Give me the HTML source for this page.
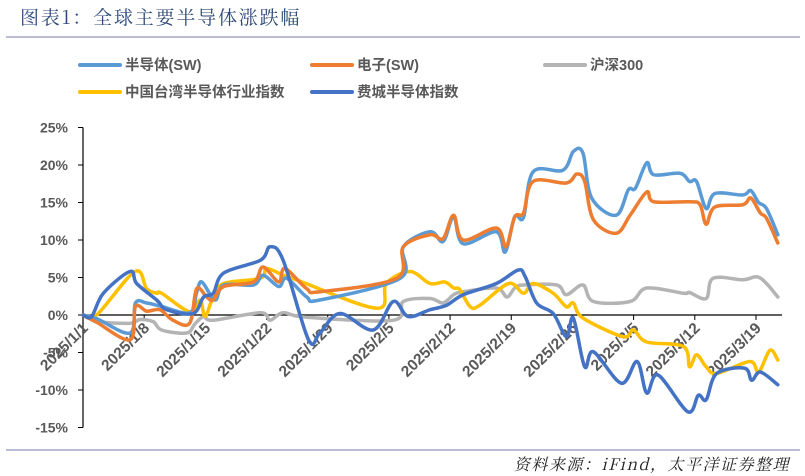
<!DOCTYPE html>
<html><head><meta charset="utf-8">
<style>
body{margin:0;background:#fff;}
#wrap{position:relative;width:805px;height:476px;overflow:hidden;font-family:"Liberation Sans","Noto Sans CJK SC",sans-serif;}
</style></head><body>
<div id="wrap">
<svg id="chart" width="805" height="476" xmlns="http://www.w3.org/2000/svg">
<text x="20" y="24" font-family="'Noto Serif CJK SC',serif" font-size="19" letter-spacing="1.8" fill="#2f4a7a">图表1：全球主要半导体涨跌幅</text>
<line x1="6" y1="37" x2="800" y2="37" stroke="#a6a6c8" stroke-width="1.5"/>
<line x1="6" y1="450" x2="800" y2="450" stroke="#a6a6c8" stroke-width="1.5"/>
<text x="790" y="470" text-anchor="end" font-family="'Noto Serif CJK SC',serif" font-style="italic" font-size="16" letter-spacing="1.5" fill="#222">资料来源：iFind，太平洋证券整理</text>
<g id="legend"></g>
<g id="axes"></g>
<g id="series"></g>
</svg>
</div>
<script>
const seriesNames=["半导体(SW)","电子(SW)","沪深300","中国台湾半导体行业指数","费城半导体指数"];
const seriesColors=["#5b9bd5","#ed7d31","#b4b4b4","#ffc000","#4472c4"];
const yTicks=[25,20,15,10,5,0,-5,-10,-15];
const xTickLabels=["2025/1/1","2025/1/8","2025/1/15","2025/1/22","2025/1/29","2025/2/5","2025/2/12","2025/2/19","2025/2/26","2025/3/5","2025/3/12","2025/3/19"];
const xTickDays=[0,7,14,21,28,35,42,49,56,63,70,77];
// day offsets from 2025/1/1 and % values
const semiDays=[0,1.6,5.4,6,7.3,8.8,12.2,13,13.6,15.1,16.1,19.5,20.6,22.4,23.3,25.6,27.1,36.3,36.65,39.7,41.2,42.4,43.5,47.3,48.3,49.4,50.4,51.5,54.9,56.1,57.2,58.2,61,62.4,63.2,64.5,65.3,68.3,69.4,70.2,71.3,72.3,75.5,76.4,77.3,78.2,79.5];
const semiVals=[0,-0.5,-2.4,1.6,1.6,1.2,0.3,3,4.4,2,4,4,5.3,3.8,4.9,2.4,2,4.9,9.1,11.1,9.8,13.1,9.5,11.1,8.4,13.1,13,19.1,19.3,21.8,21.6,15.6,13.3,16.7,16.9,20.3,18.7,18.9,17.8,17.8,14.2,16.2,16,16.6,15,14.2,10.7];
const elecDays=[0,1.6,5.4,6,7.3,8.8,10.3,12.2,13,14.15,14.9,16.1,19.5,20.6,22.4,23.1,25.6,27.1,35.9,36.65,39.7,41.2,42.4,43.5,47.3,48.4,49.4,50.4,51.5,55.3,56.5,57.4,58.4,61,62.6,64.5,65.3,69.4,70.6,71.3,72.3,75.5,76.4,77.5,78.2,79.5];
const elecVals=[0,-1,-3.3,1.1,0.5,0.7,-0.7,-1.1,3.5,2.4,2,3.8,4.4,6.4,4.4,6.2,3.5,3.1,4.9,9.1,10.7,10.2,13.3,10,11.6,9.1,13.1,13.6,17.8,17.6,18.8,17.8,12.7,10.9,13.3,16.4,15.1,15.1,14.7,12.1,14.4,14.7,15.6,13.6,12.9,9.6];
const csiDays=[0,1.95,5.38,6.52,8.05,9,11.86,12.8,13.8,14.9,20.3,21.4,22.9,25.6,35.5,36.65,39.7,41.2,42.4,43.5,47.3,48.5,49.4,50.4,54.2,55.3,57.2,58.4,62.6,64.5,68.7,69.4,71.3,72.1,75.5,77.1,78.2,79.5];
const csiVals=[0,-0.9,-1.1,-0.6,-0.9,-2,-2.4,-1.2,-0.2,-0.7,0.3,-0.7,0.3,-0.3,-0.7,1.8,2.2,1.6,2.7,3.1,3.6,2.4,3.6,4,4,2.7,4,1.8,1.8,3.6,2.9,3,2.2,4.9,4.7,5.1,4.2,2.4];
const twDays=[0,1.56,5.95,7.28,8.43,9,12.24,13.4,13.96,14.9,16.1,20.3,21,22.9,24.4,33.6,34.7,37.4,39.7,41.4,42.4,43.1,44.3,45.4,48.7,50.4,51.5,53.8,55.3,56.1,57.2,61.8,62.97,64.5,68.7,69.4,70.2,71.3,72.5,76.3,77.3,78.6,79.5];
const twVals=[0,0,5.8,3.5,2.9,2.9,0.4,2,-0.2,2.4,4.2,4.9,6.2,5.3,4.7,0.9,4.2,5.8,4.2,4.4,3.6,3.4,1.1,1.3,4.2,2.9,4.2,2.9,1.1,1.6,-0.4,-2.9,-2,-3.6,-4.2,-6.9,-5.3,-6.9,-7.8,-6.2,-7.6,-4.7,-6];
const soxDays=[0,0.99,2.33,5.38,6.14,8.43,9.57,12.6,13.8,14.9,16.1,20.3,21.4,22.9,25.8,27.1,29.4,33.2,35.5,37.2,39.7,41.6,43.5,47.3,49.8,50.6,51.9,53.8,55.3,56.1,57.4,58.4,61.6,63.4,64.5,65.8,69.2,70.4,71.3,72.5,75.7,76.5,77.5,79.5];
const soxVals=[0,-0.2,2.9,5.8,4.2,2,0.7,0.2,2.4,2.9,5.6,7.3,9.1,7.3,-3.3,-2.4,0.2,-2,1.8,-0.2,0.7,1.3,2.7,4.2,6,5.1,1.6,0.2,-2.9,-0.4,-6.9,-4.9,-9.1,-6.2,-10.4,-8,-12.9,-10.7,-11.3,-7.8,-7.1,-8.7,-7.6,-9.3];
const allDays=[semiDays,elecDays,csiDays,twDays,soxDays];
const allVals=[semiVals,elecVals,csiVals,twVals,soxVals];

const NS="http://www.w3.org/2000/svg";
const x0=83,pxPerDay=8.74,yZero=315,pxPerPct=7.5;
function xs(d){return x0+d*pxPerDay;}
function ys(v){return yZero-v*pxPerPct;}
function mk(tag,attrs,parent){const e=document.createElementNS(NS,tag);for(const k in attrs)e.setAttribute(k,attrs[k]);parent.appendChild(e);return e;}
const axes=document.getElementById('axes'),ser=document.getElementById('series'),leg=document.getElementById('legend');
let yl=mk('line',{x1:x0,y1:ys(25),x2:x0,y2:ys(-15),stroke:'#000','stroke-width':1.2},axes);


yTicks.forEach(t=>{
  let tk=mk('line',{x1:x0-5,y1:ys(t),x2:x0,y2:ys(t),stroke:'#000','stroke-width':1},axes);
  
  
  let tx=mk('text',{x:68,y:ys(t)+5,'text-anchor':'end','font-size':14,'font-weight':'bold',fill:'#595959'},axes);
  tx.textContent=t+'%';
  
  
});
let xl=mk('line',{x1:x0,y1:yZero,x2:782,y2:yZero,stroke:'#000','stroke-width':1.2},axes);


xTickDays.forEach((d,i)=>{
  const x=xs(d);
  let tk=mk('line',{x1:x,y1:yZero,x2:x,y2:yZero+5,stroke:'#000','stroke-width':1},axes);
  
  
  let tx=mk('text',{x:x+6,y:yZero+14,'text-anchor':'end','font-size':15.5,'font-weight':'bold',fill:'#595959',transform:`rotate(-45 ${x+6} ${yZero+14})`},axes);
  tx.textContent=xTickLabels[i];
  
  
});
function pathFor(ds,vs){
  const p=ds.map((d,i)=>[xs(d),ys(vs[i])]);
  let s=`M${p[0][0]},${p[0][1]}`;
  for(let i=0;i<p.length-1;i++){
    const a=p[i-1]||p[i],b=p[i],c=p[i+1],e=p[i+2]||c;
    const c1=[b[0]+(c[0]-a[0])/6,b[1]+(c[1]-a[1])/6],c2=[c[0]-(e[0]-b[0])/6,c[1]-(e[1]-b[1])/6];
    s+=`C${c1[0]},${c1[1]} ${c2[0]},${c2[1]} ${c[0]},${c[1]}`;
  }
  return s;
}
const order=[2,3,0,1,4];
order.forEach(k=>{
  let pth=mk('path',{d:pathFor(allDays[k],allVals[k]),fill:'none',stroke:seriesColors[k],'stroke-width':3.5,'stroke-linejoin':'round','stroke-linecap':'round'},ser);
  
  
});
const legPos=[[80,65],[312,65],[545,65],[80,92],[312,92]];
seriesNames.forEach((n,i)=>{
  const [lx,ly]=legPos[i];
  let ln=mk('line',{x1:lx,y1:ly,x2:lx+40,y2:ly,stroke:seriesColors[i],'stroke-width':4,'stroke-linecap':'round'},leg);
  
  
  let tx=mk('text',{x:lx+45,y:ly+5,'font-size':14.5,'font-weight':'bold',fill:'#595959'},leg);
  tx.textContent=n;
  
  
});
</script>
</body></html>
